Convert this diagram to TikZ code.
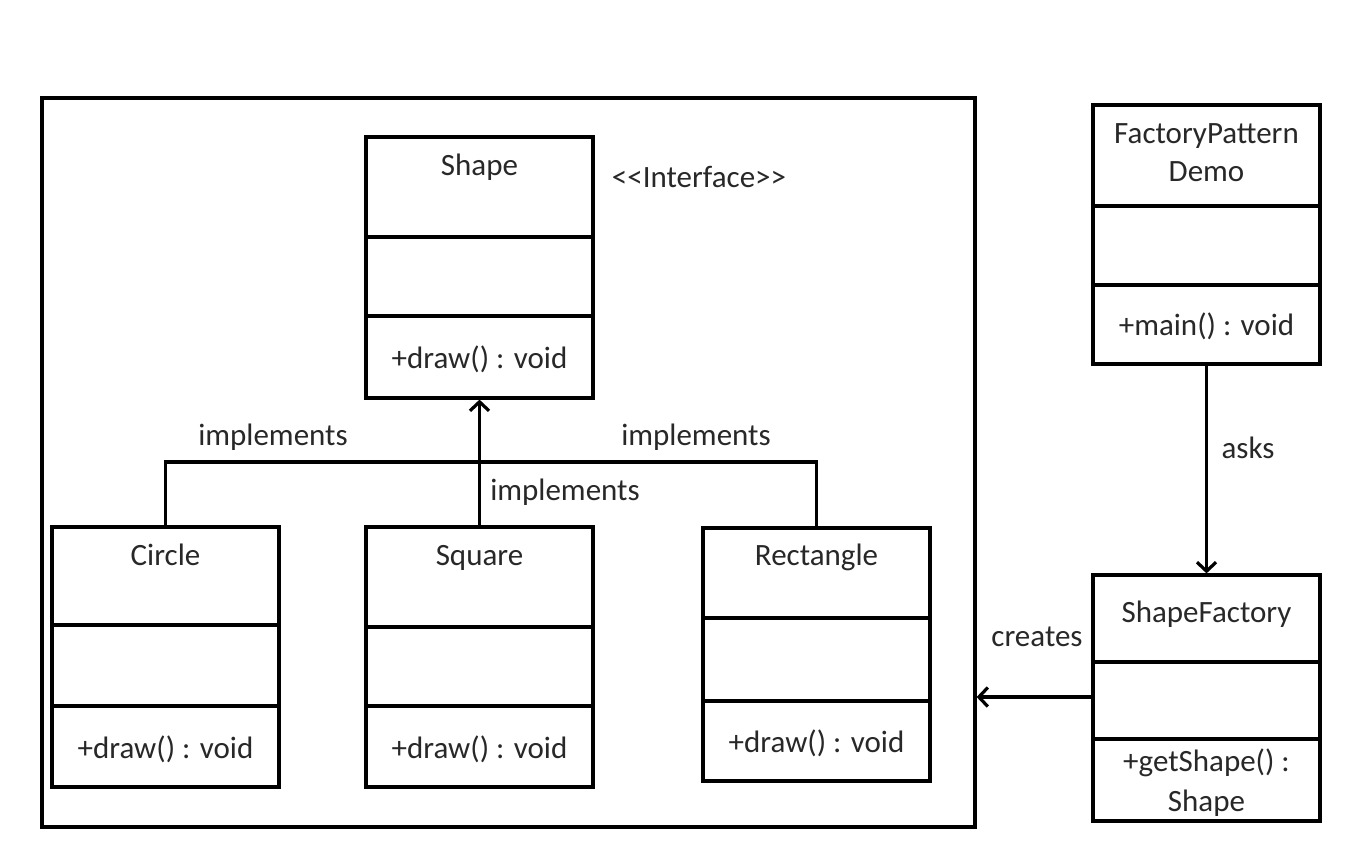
\documentclass[tikz,border=0pt]{standalone}
\usepackage{fontspec}
\setmainfont{Carlito}
\usetikzlibrary{arrows.meta,positioning}
\definecolor{txt}{RGB}{40,40,40}

\begin{document}
\begin{tikzpicture}[x=1pt, y=-1pt,
  cls/.style={draw, line width=3.2pt, minimum width=227pt, inner sep=0pt},
  lbl/.style={font=\fontsize{31}{36}\selectfont, text=txt, inner sep=0pt, anchor=base},
  conn/.style={line width=3.2pt},
  arr/.style={conn, -{Straight Barb[length=9pt, width=19pt, line width=3.2pt]}}
]
  \useasboundingbox (0,0) rectangle (1364,852);
  \fill[white] (0,0) rectangle (1364,852);

  % frame round the shapes
  \node[draw, line width=3.2pt, minimum width=933pt, minimum height=729pt, inner sep=0pt] (pkg) at (508.5,462.5) {};

  % Shape
  \node[cls, minimum height=261pt] (shape) at (479.5,267.5) {};
  \draw[conn] (shape.west |- 0,237) -- (shape.east |- 0,237);
  \draw[conn] (shape.west |- 0,316) -- (shape.east |- 0,316);
  \node[lbl] (shapet) at (479.5,175) {Shape};
  \node[lbl] (shapem) at (479.5,368) {+draw() : void};
  \node[lbl] (iface) at (699,187) {<{}<Interface>{}>};

  % Circle
  \node[cls, minimum height=260pt] (circle) at (165.5,657) {};
  \draw[conn] (circle.west |- 0,625) -- (circle.east |- 0,625);
  \draw[conn] (circle.west |- 0,706) -- (circle.east |- 0,706);
  \node[lbl] (circlet) at (165.5,565) {Circle};
  \node[lbl] (circlem) at (165.5,758) {+draw() : void};

  % Square
  \node[cls, minimum height=260pt] (square) at (479.5,657) {};
  \draw[conn] (square.west |- 0,627) -- (square.east |- 0,627);
  \draw[conn] (square.west |- 0,706) -- (square.east |- 0,706);
  \node[lbl] (squaret) at (479.5,565) {Square};
  \node[lbl] (squarem) at (479.5,758) {+draw() : void};

  % Rectangle
  \node[cls, minimum height=253pt] (rect) at (816.5,654.5) {};
  \draw[conn] (rect.west |- 0,618) -- (rect.east |- 0,618);
  \draw[conn] (rect.west |- 0,701) -- (rect.east |- 0,701);
  \node[lbl] (rectt) at (816.5,565) {Rectangle};
  \node[lbl] (rectm) at (816.5,752) {+draw() : void};

  % FactoryPatternDemo
  \node[cls, minimum height=259pt] (demo) at (1206.5,234.5) {};
  \draw[conn] (demo.west |- 0,206) -- (demo.east |- 0,206);
  \draw[conn] (demo.west |- 0,285) -- (demo.east |- 0,285);
  \node[lbl] (demot) at (1206.5,143) {FactoryPattern};
  \node[lbl] (demot2) at (1206.5,181) {Demo};
  \node[lbl] (demom) at (1206.5,335) {+main() : void};

  % ShapeFactory
  \node[cls, minimum height=246pt] (factory) at (1206.5,698) {};
  \draw[conn] (factory.west |- 0,662) -- (factory.east |- 0,662);
  \draw[conn] (factory.west |- 0,739) -- (factory.east |- 0,739);
  \node[lbl] (factoryt) at (1206.5,622) {ShapeFactory};
  \node[lbl] (factorym) at (1206.5,771) {+getShape() :};
  \node[lbl] (factorym2) at (1206.5,811) {Shape};

  % connectors
  \coordinate (bus) at (479.5,462);
  \draw[conn] (circle.north) |- (bus) -| (rect.north);
  \draw[arr] (square.north) -- (shape.south);
  \draw[arr] (demo.south) -- (factory.north);
  \draw[arr] (factory.west |- 0,697) -- (pkg.east |- 0,697);

  \node[lbl] (impl1) at (273,445) {implements};
  \node[lbl] (impl2) at (565,500) {implements};
  \node[lbl] (impl3) at (696,445) {implements};
  \node[lbl] (asks) at (1248,458) {asks};
  \node[lbl] (creates) at (1037,646) {creates};
\end{tikzpicture}
\end{document}
